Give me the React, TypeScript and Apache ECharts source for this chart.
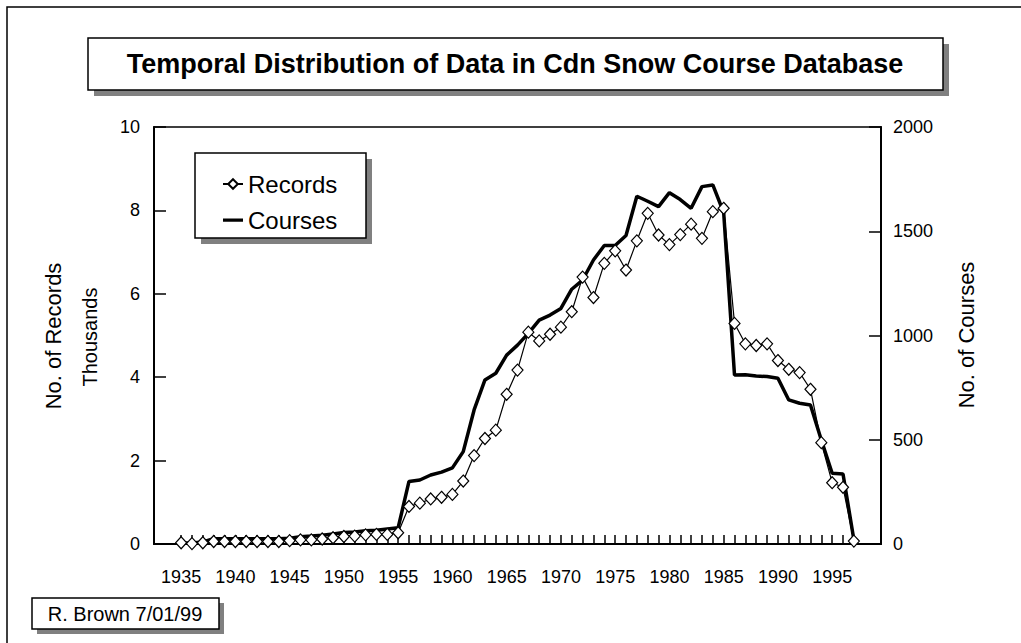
import React, { useEffect, useRef } from "react";
import * as echarts from "echarts";

const years = [
  1935, 1936, 1937, 1938, 1939, 1940, 1941, 1942, 1943, 1944,
  1945, 1946, 1947, 1948, 1949, 1950, 1951, 1952, 1953, 1954,
  1955, 1956, 1957, 1958, 1959, 1960, 1961, 1962, 1963, 1964,
  1965, 1966, 1967, 1968, 1969, 1970, 1971, 1972, 1973, 1974,
  1975, 1976, 1977, 1978, 1979, 1980, 1981, 1982, 1983, 1984,
  1985, 1986, 1987, 1988, 1989, 1990, 1991, 1992, 1993, 1994,
  1995, 1996, 1997,
];

// No. of records, thousands (left axis)
const records = [
  0.03, 0.01, 0.03, 0.06, 0.06, 0.06, 0.06, 0.06, 0.06, 0.06,
  0.08, 0.10, 0.10, 0.12, 0.15, 0.18, 0.19, 0.22, 0.23, 0.23,
  0.27, 0.90, 0.98, 1.08, 1.12, 1.19, 1.51, 2.12, 2.53, 2.73,
  3.59, 4.17, 5.08, 4.87, 5.03, 5.20, 5.57, 6.40, 5.91, 6.73,
  7.03, 6.57, 7.27, 7.93, 7.41, 7.18, 7.42, 7.67, 7.33, 7.97,
  8.05, 5.29, 4.80, 4.76, 4.80, 4.40, 4.19, 4.11, 3.71, 2.43,
  1.47, 1.36, 0.07,
];

// No. of courses (right axis)
const courses = [
  5, 5, 10, 25, 25, 25, 25, 25, 25, 25,
  28, 35, 38, 42, 48, 55, 58, 64, 66, 72,
  78, 300, 307, 331, 345, 365, 443, 643, 787, 819,
  906, 954, 1010, 1074, 1098, 1130, 1222, 1266, 1362, 1432,
  1432, 1480, 1668, 1644, 1618, 1685, 1652, 1610, 1714, 1722,
  1590, 810, 812, 806, 803, 795, 691, 675, 667, 499,
  339, 336, 20,
];

const xLabelYears = [1935, 1940, 1945, 1950, 1955, 1960, 1965, 1970, 1975, 1980, 1985, 1990, 1995];

const titleText = "Temporal Distribution of Data in Cdn Snow Course Database";
const leftAxisTitle = "No. of Records";
const leftAxisUnit = "Thousands";
const rightAxisTitle = "No. of Courses";
const footnote = "R. Brown 7/01/99";

// thick dash legend icon (tiny corner specks keep the 20x12 bounding box)
const dashIcon =
  "path://M0,0 L0.01,0 L0.01,0.01 Z M0,4.6 L20,4.6 L20,7.8 L0,7.8 Z M19.99,11.99 L20,11.99 L20,12 Z";

export default function App() {
  const ref = useRef<HTMLDivElement>(null);

  useEffect(() => {
    if (!ref.current) return;
    const chart = echarts.init(ref.current, null, { renderer: "svg" });
    const font = "'Liberation Sans', Arial, sans-serif";
    const axisLine = { show: true, onZero: false, lineStyle: { color: "#000", width: 2 } };
    const plain = (v: number) => String(v);

    chart.setOption({
      animation: false,
      backgroundColor: "#fff",
      textStyle: { fontFamily: font, color: "#000" },
      title: {
        text: titleText,
        left: 515,
        top: 50,
        textAlign: "center",
        padding: 0,
        z: 10,
        textStyle: { fontFamily: font, fontSize: 27, fontWeight: "bold", color: "#000" },
      },
      grid: {
        left: 154,
        right: 140,
        top: 127,
        bottom: 99,
        show: true,
        borderColor: "#000",
        borderWidth: 1.5,
        backgroundColor: "transparent",
      },
      legend: {
        orient: "vertical",
        left: 222,
        top: 172,
        padding: 0,
        itemWidth: 20,
        itemHeight: 12,
        itemGap: 12,
        z: 10,
        data: [
          { name: "Records" },
          { name: "Courses", icon: dashIcon, itemStyle: { color: "#000", borderWidth: 0 } },
        ],
        textStyle: { fontFamily: font, fontSize: 24, color: "#000" },
      },
      xAxis: {
        type: "value",
        min: 1932.5,
        max: 1999.5,
        splitLine: { show: false },
        axisLine,
        axisTick: {
          show: true,
          inside: true,
          length: 9,
          customValues: years,
          lineStyle: { color: "#000", width: 1.5 },
        },
        axisLabel: {
          customValues: xLabelYears,
          formatter: plain,
          margin: 24,
          fontSize: 18,
          fontFamily: font,
          color: "#000",
        },
      },
      yAxis: [
        {
          type: "value",
          position: "left",
          min: 0,
          max: 10,
          interval: 2,
          splitLine: { show: false },
          axisLine,
          axisTick: { show: true, inside: true, length: 12, lineStyle: { color: "#000", width: 1.5 } },
          axisLabel: { formatter: plain, margin: 14, fontSize: 18, fontFamily: font, color: "#000" },
        },
        {
          type: "value",
          position: "right",
          min: 0,
          max: 2000,
          interval: 500,
          splitLine: { show: false },
          axisLine,
          axisTick: { show: true, inside: true, length: 12, lineStyle: { color: "#000", width: 1.5 } },
          axisLabel: { formatter: plain, margin: 12, fontSize: 18, fontFamily: font, color: "#000" },
        },
      ],
      series: [
        {
          name: "Courses",
          type: "line",
          yAxisIndex: 1,
          data: years.map((y, i) => [y, courses[i]]),
          symbol: "none",
          lineStyle: { color: "#000", width: 3.5 },
          itemStyle: { color: "#000" },
          z: 3,
        },
        {
          name: "Records",
          type: "line",
          yAxisIndex: 0,
          data: years.map((y, i) => [y, records[i]]),
          symbol: "diamond",
          symbolSize: [11, 12],
          showAllSymbol: true,
          lineStyle: { color: "#000", width: 1.2 },
          itemStyle: { color: "#fff", borderColor: "#000", borderWidth: 1.2 },
          z: 4,
        },
      ],
      graphic: [
        {
          type: "polyline",
          z: 0,
          shape: { points: [[7, 643], [7, 7], [1021, 7]] },
          style: { fill: "none", stroke: "#000", lineWidth: 1.5 },
        },
        { type: "rect", z: 1, shape: { x: 94, y: 44, width: 855, height: 52 }, style: { fill: "#808080" } },
        {
          type: "rect",
          z: 1,
          shape: { x: 88, y: 38, width: 855, height: 52 },
          style: { fill: "#fff", stroke: "#000", lineWidth: 1.5 },
        },
        { type: "rect", z: 5, shape: { x: 201, y: 159, width: 171, height: 85 }, style: { fill: "#808080" } },
        {
          type: "rect",
          z: 5,
          shape: { x: 195, y: 153, width: 171, height: 85 },
          style: { fill: "#fff", stroke: "#000", lineWidth: 1.5 },
        },
        { type: "rect", z: 1, shape: { x: 37, y: 603, width: 187, height: 31 }, style: { fill: "#808080" } },
        {
          type: "rect",
          z: 1,
          shape: { x: 32, y: 598, width: 187, height: 31 },
          style: { fill: "#fff", stroke: "#000", lineWidth: 1.5 },
        },
        {
          type: "text",
          z: 10,
          x: 125,
          y: 614,
          style: { text: footnote, font: `20px ${font}`, fill: "#000", align: "center", verticalAlign: "middle" },
        },
        {
          type: "text",
          z: 10,
          x: 53,
          y: 336,
          rotation: Math.PI / 2,
          style: { text: leftAxisTitle, font: `22px ${font}`, fill: "#000", align: "center", verticalAlign: "middle" },
        },
        {
          type: "text",
          z: 10,
          x: 90,
          y: 337,
          rotation: Math.PI / 2,
          style: { text: leftAxisUnit, font: `20px ${font}`, fill: "#000", align: "center", verticalAlign: "middle" },
        },
        {
          type: "text",
          z: 10,
          x: 966,
          y: 335,
          rotation: Math.PI / 2,
          style: { text: rightAxisTitle, font: `22px ${font}`, fill: "#000", align: "center", verticalAlign: "middle" },
        },
      ],
    });

    return () => chart.dispose();
  }, []);

  return (
    <div
      ref={ref}
      style={{ position: "fixed", left: 0, top: 0, width: 1021, height: 643, background: "#fff" }}
    />
  );
}
